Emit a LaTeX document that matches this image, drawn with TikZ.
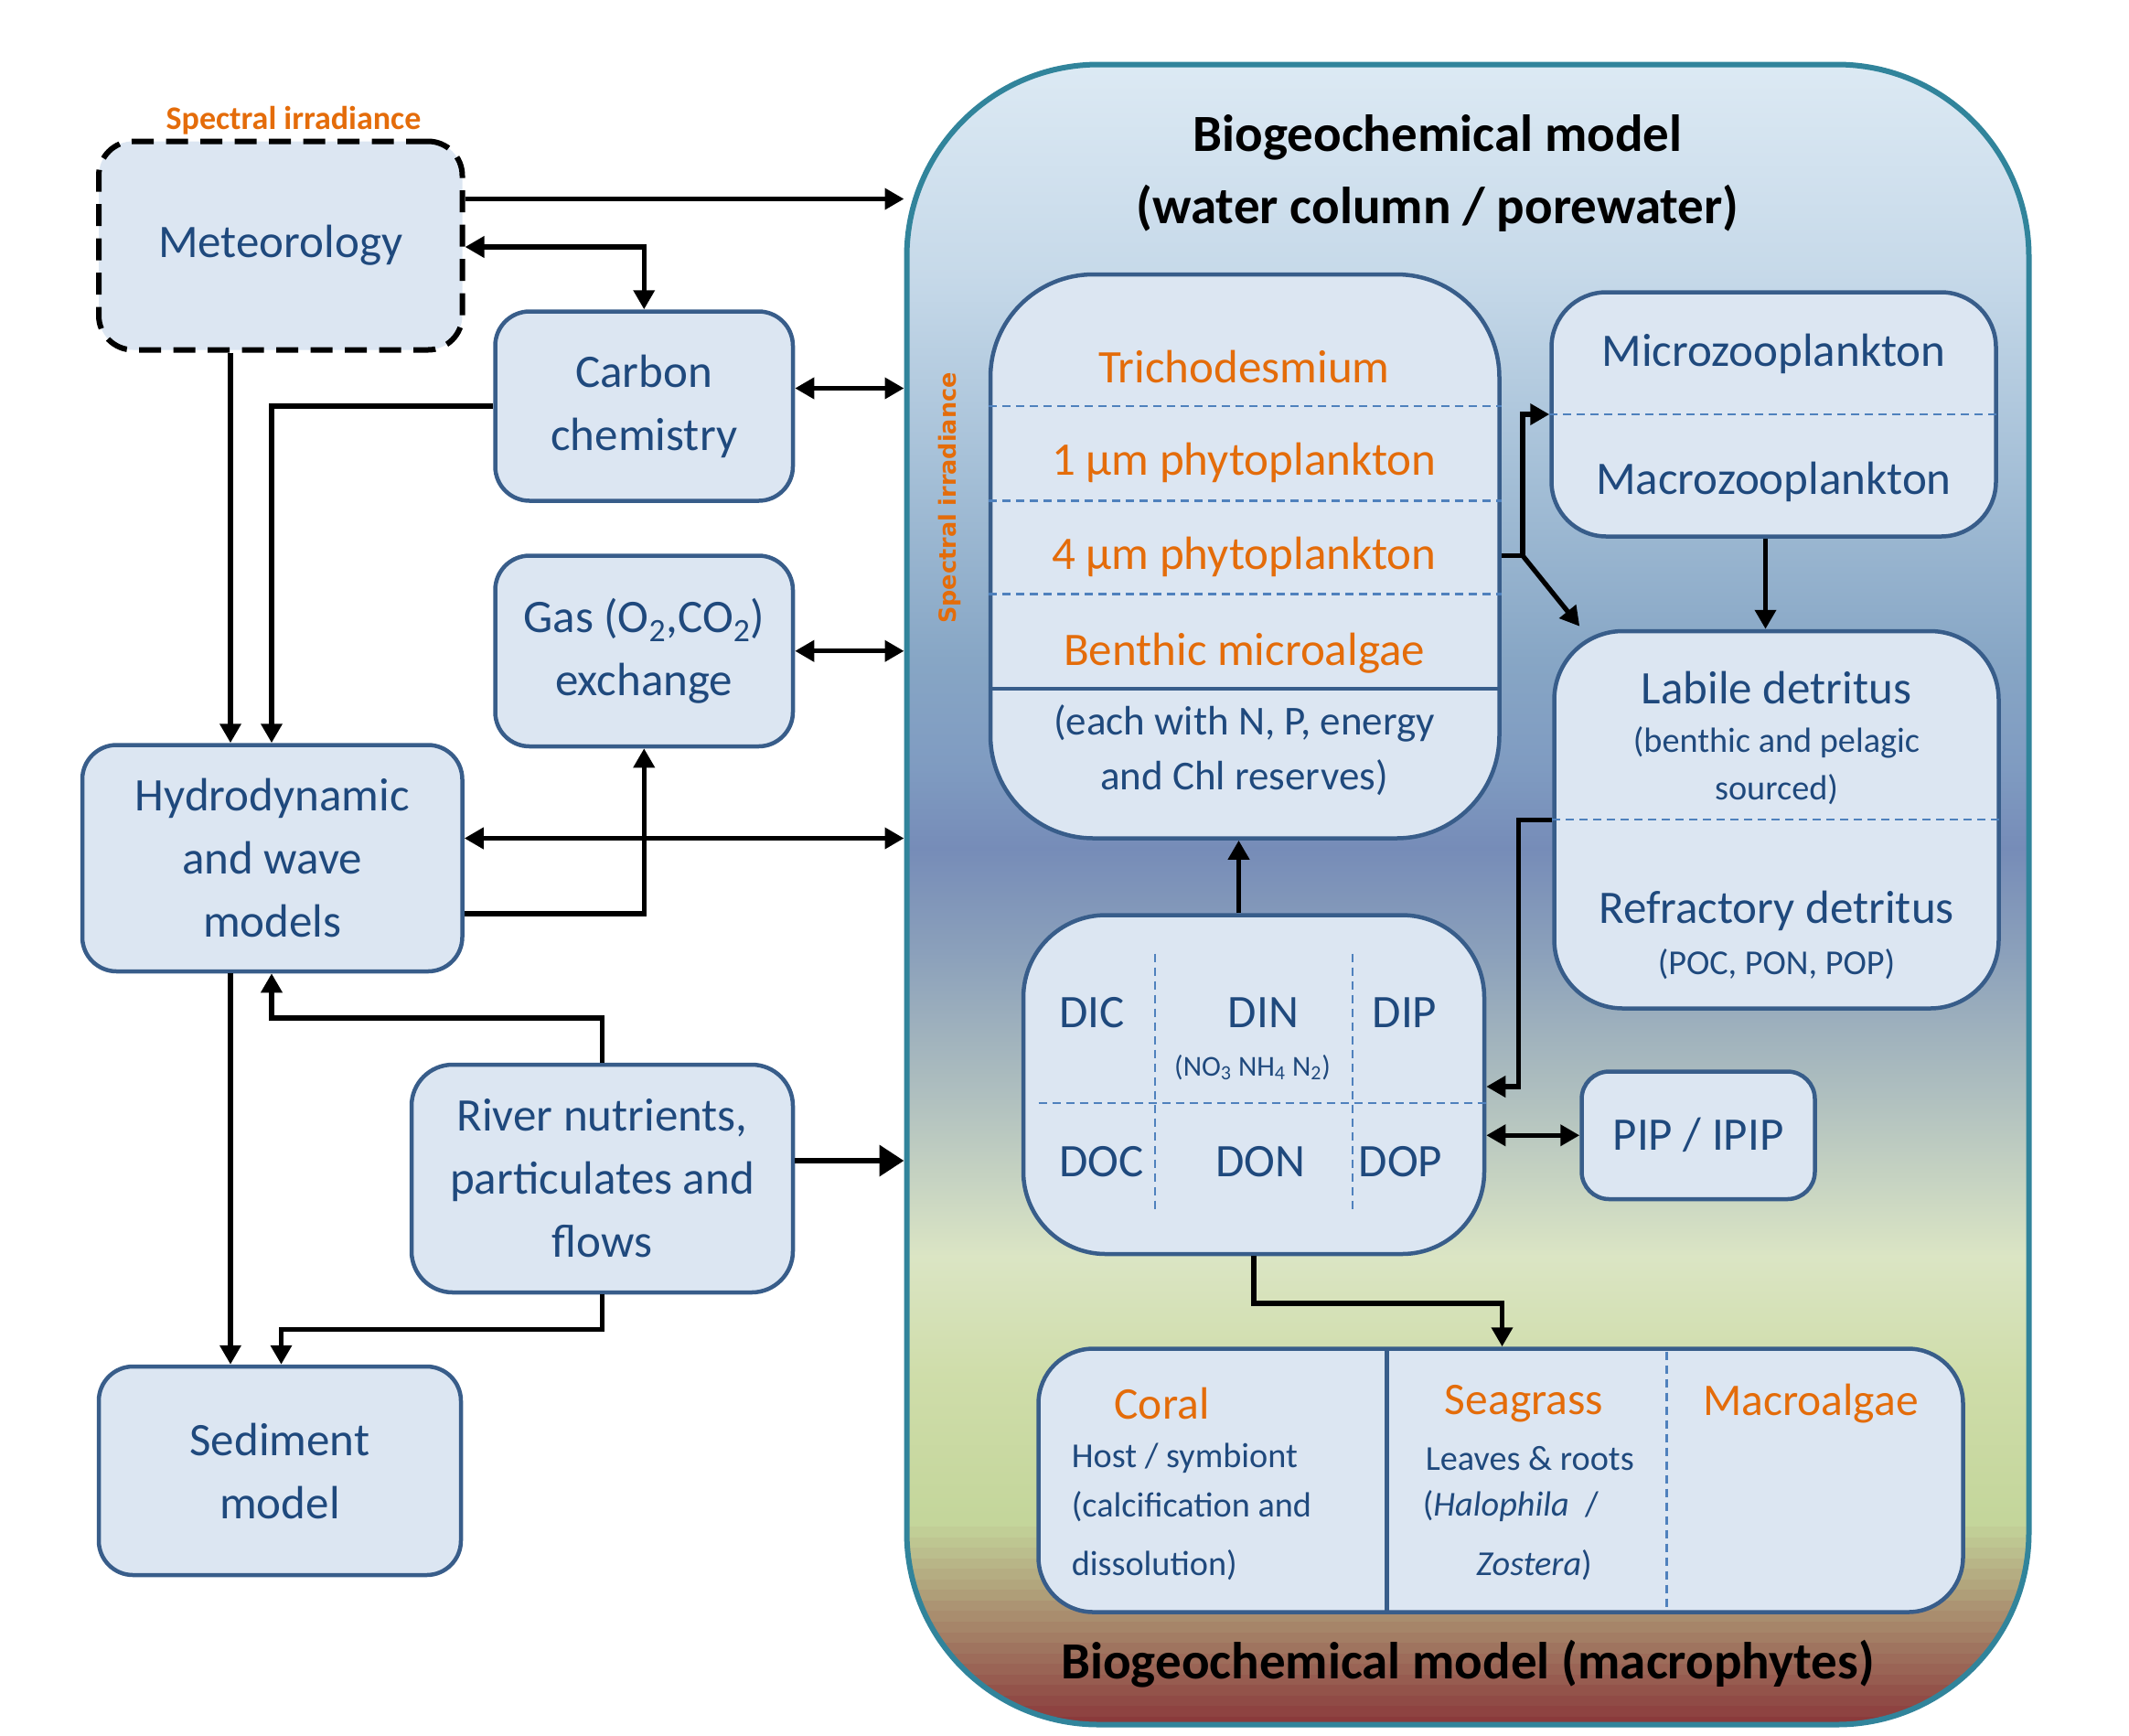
\documentclass[tikz,border=0pt]{standalone}
\usepackage{fontspec}
\setmainfont{Carlito}
\newfontfamily\djv{DejaVu Sans}
\usetikzlibrary{arrows.meta,calc}
\definecolor{boxf}{HTML}{DCE6F2}
\definecolor{bdr}{HTML}{385D8A}
\definecolor{txtb}{HTML}{1F497D}
\definecolor{orng}{HTML}{E46C0A}
\definecolor{cbdr}{HTML}{31849B}
\definecolor{dsh}{HTML}{4F81BD}
\definecolor{g0}{HTML}{DDEAF4}
\definecolor{g1}{HTML}{C6D9E9}
\definecolor{g2}{HTML}{A3BED6}
\definecolor{g3}{HTML}{87A6C5}
\definecolor{g4}{HTML}{7F9BC1}
\definecolor{g5}{HTML}{768CB8}
\definecolor{g6}{HTML}{8DA2BB}
\definecolor{g7}{HTML}{B0C0BF}
\definecolor{g8}{HTML}{DBE5C4}
\definecolor{g9}{HTML}{CFDDAA}
\definecolor{g10}{HTML}{C4D69B}
\definecolor{g11}{HTML}{8A3A3B}
\begin{document}
\begin{tikzpicture}[x=1pt,y=-1pt,
  box/.style={draw=bdr, line width=3pt, fill=boxf, rounded corners=#1, inner sep=0pt,
    text=txtb, font=\fontsize{34}{46}\selectfont, align=center},
  box/.default=25pt,
  tb/.style={text=txtb, inner sep=0pt, font=\fontsize{34}{46}\selectfont, align=center},
  tbs/.style={text=txtb, inner sep=0pt, font=\fontsize{25.5}{35}\selectfont, align=center},
  to/.style={text=orng, inner sep=0pt, font=\fontsize{34}{40}\selectfont},
  ttl/.style={text=black, inner sep=0pt, font=\bfseries\fontsize{38}{44}\selectfont},
  sepl/.style={draw=dsh, line width=1.5pt, dash pattern=on 6pt off 4pt},
  conn/.style={line width=3.5pt},
  arr/.style={line width=3.5pt, -{Triangle[length=14pt,width=15pt]}},
  darr/.style={line width=3.5pt, {Triangle[length=14pt,width=15pt]}-{Triangle[length=14pt,width=15pt]}},
  bigarr/.style={line width=4.5pt, -{Triangle[length=18pt,width=22pt]}}
]
\useasboundingbox (0,0) rectangle (1552,1264.67);

% ---------- container gradient ----------
\begin{scope}
\clip[rounded corners=140pt] (661,47) rectangle (1479,1257);
\shade[top color=g0, bottom color=g1] (661,40) rectangle (1479,201);
\shade[top color=g1, bottom color=g2] (661,200) rectangle (1479,351);
\shade[top color=g2, bottom color=g3] (661,350) rectangle (1479,481);
\shade[top color=g3, bottom color=g4] (661,480) rectangle (1479,561);
\shade[top color=g4, bottom color=g5] (661,560) rectangle (1479,619);
\shade[top color=g5, bottom color=g6] (661,618) rectangle (1479,701);
\shade[top color=g6, bottom color=g7] (661,700) rectangle (1479,801);
\shade[top color=g7, bottom color=g8] (661,800) rectangle (1479,916);
\shade[top color=g8, bottom color=g9] (661,915) rectangle (1479,1001);
\shade[top color=g9, bottom color=g10] (661,1000) rectangle (1479,1106);
\foreach \i in {0,...,19}{
  \pgfmathtruncatemacro\tt{\i*100/19}
  \fill[g11!\tt!g10] (661,1105+\i*7.7) rectangle (1479,1105+\i*7.7+8.5);
}
\end{scope}
\node[draw=cbdr, line width=4pt, rounded corners=140pt, minimum width=818pt,
  minimum height=1210pt, inner sep=0pt] (bgc) at (1070,652) {};

\node[ttl] (t1) at (1048,100) {Biogeochemical model};
\node[ttl] (t2) at (1048,152) {(water column / porewater)};
\node[ttl] (t3) at (1070,1213) {Biogeochemical model (macrophytes)};

\node[text=orng, inner sep=0pt, rotate=90, font=\djv\bfseries\fontsize{17}{20}\selectfont]
  (sir) at (692,363) {Spectral irradiance};

% ---------- left boxes ----------
\node[box, draw=black, line width=4pt, dash pattern=on 16pt off 9pt,
  minimum width=265pt, minimum height=152pt] (met) at (204.5,179) {Meteorology};
\node[text=orng, inner sep=0pt, font=\bfseries\fontsize{24}{28}\selectfont] (sit) at (214,88) {Spectral irradiance};
\node[box, minimum width=217pt, minimum height=138pt] (carb) at (469.5,296) {Carbon\\chemistry};
\node[box, minimum width=217pt, minimum height=139pt] (gas) at (469.5,474.5)
  {Gas (O\textsubscript{2},CO\textsubscript{2})\\exchange};
\node[box, minimum width=277pt, minimum height=165pt] (hyd) at (198.5,625.5) {Hydrodynamic\\and wave\\models};
\node[box=30pt, minimum width=278pt, minimum height=166pt] (riv) at (439,859)
  {River nutrients,\\particulates and\\flows};
\node[box, minimum width=264pt, minimum height=152pt] (sed) at (204,1072) {Sediment\\model};

% ---------- phytoplankton ----------
\node[box=75pt, minimum width=371pt, minimum height=411pt] (phy) at (907.5,405.5) {};
\draw[sepl] (phy.west |- 0,296) -- (phy.east |- 0,296);
\draw[sepl] (phy.west |- 0,365) -- (phy.east |- 0,365);
\draw[sepl] (phy.west |- 0,433) -- (phy.east |- 0,433);
\draw[draw=bdr, line width=2.5pt] (phy.west |- 0,502) -- (phy.east |- 0,502);
\node[to] (p1) at (907,267) {Trichodesmium};
\node[to] (p2) at (907,337) {1 µm phytoplankton};
\node[to] (p3) at (907,406) {4 µm phytoplankton};
\node[to] (p4) at (907,476) {Benthic microalgae};
\node[tb, font=\fontsize{30}{40}\selectfont] (p5) at (907,547) {(each with N, P, energy\\and Chl reserves)};

% ---------- zooplankton ----------
\node[box=40pt, minimum width=324pt, minimum height=178pt] (zoo) at (1293,302) {};
\draw[sepl] (zoo.west) -- (zoo.east);
\node[tb] (z1) at (1293,258) {Microzooplankton};
\node[tb] (z2) at (1293,351) {Macrozooplankton};

% ---------- detritus ----------
\node[box=50pt, minimum width=324pt, minimum height=275pt] (det) at (1295,597.5) {};
\draw[sepl] (det.west) -- (det.east);
\node[tb] (d1) at (1295,501) {Labile detritus};
\node[tbs] (d2) at (1295,558) {(benthic and pelagic\\sourced)};
\node[tb] (d3) at (1295,664) {Refractory detritus};
\node[tbs] (d4) at (1295,703) {(POC, PON, POP)};

% ---------- nutrients ----------
\node[box=60pt, minimum width=336pt, minimum height=247pt] (nut) at (914,790.5) {};
\draw[sepl] (842,695) -- (842,884);
\draw[sepl] (986,695) -- (986,884);
\draw[sepl] (757,804) -- (nut.east |- 0,804);
\node[tb] (n1) at (796,738) {DIC};
\node[tb] (n2) at (921,738) {DIN};
\node[tb] (n3) at (1024,738) {DIP};
\node[tb, font=\fontsize{21}{24}\selectfont] (n4) at (913,778)
  {(NO\textsubscript{3} NH\textsubscript{4} N\textsubscript{2})};
\node[tb] (n5) at (803,847) {DOC};
\node[tb] (n6) at (919,847) {DON};
\node[tb] (n7) at (1021,847) {DOP};

\node[box=20pt, minimum width=170pt, minimum height=93pt] (pip) at (1238,827.5) {PIP / IPIP};

% ---------- macrophytes ----------
\node[box=40pt, minimum width=674pt, minimum height=192pt] (mac) at (1094,1079) {};
\draw[draw=bdr, line width=3pt] (1011,983) -- (1011,1175);
\draw[sepl] (1215,985) -- (1215,1173);
\node[to, font=\fontsize{33}{40}\selectfont] (m1) at (847,1023) {Coral};
\node[tbs, anchor=west] (m2) at (781,1063) {Host / symbiont};
\node[tbs, anchor=west] (m3) at (781,1098) {(calcification and};
\node[tbs, anchor=west] (m4) at (781,1141) {dissolution)};
\node[to, font=\fontsize{33}{40}\selectfont] (m5) at (1111,1023) {Seagrass};
\node[tbs, anchor=west] (m6) at (1039,1063) {Leaves \& roots};
\node[tbs, anchor=west] (m7) at (1037,1098) {(\textit{Halophila}\ \ /};
\node[tbs, anchor=west] (m8) at (1076,1141) {\textit{Zostera})};
\node[to, font=\fontsize{33}{40}\selectfont] (m9) at (1320,1023) {Macroalgae};

% ---------- connectors (left) ----------
\draw[arr] (met.east |- 0,145) -- (bgc.west |- 0,145);
\draw[darr] (met.east |- 0,180) -| (carb.north);
\draw[arr] (met.south -| 168,0) -- (hyd.north -| 168,0);
\draw[arr] (carb.west) -| (hyd.north -| 198,0);
\draw[darr] (carb.east |- 0,283) -- (bgc.west |- 0,283);
\draw[darr] (gas.east) -- (bgc.west |- gas.east);
\draw[darr] (hyd.east |- 0,611) -- (bgc.west |- 0,611);
\draw[arr] (hyd.east |- 0,666) -| (gas.south);
\draw[arr] (hyd.south -| 168,0) -- (sed.north -| 168,0);
\draw[arr] (riv.north) -- (riv.north |- 0,742) -| (hyd.south -| 198,0);
\draw[bigarr] (riv.east |- 0,846) -- (bgc.west |- 0,846);
\draw[arr] (riv.south) -- (riv.south |- 0,969) -| (sed.north -| 205,0);

% ---------- connectors (inside) ----------
\coordinate (jn) at (1110,405);
\draw[conn] (phy.east |- jn) -- (jn);
\draw[arr] (jn) |- (zoo.west);
\draw[arr] (jn) -- ([shift={(20,-2)}]det.north west);
\draw[arr] (zoo.south -| 1287,0) -- (det.north -| 1287,0);
\draw[arr] (det.west) -- (det.west -| 1107,0) |- (nut.east |- 0,792);
\draw[arr] (nut.north -| 903,0) -- (phy.south -| 903,0);
\draw[darr] (nut.east |- pip.west) -- (pip.west);
\draw[arr] (nut.south) -- (nut.south |- 0,950) -| (mac.north -| 1095,0);
\end{tikzpicture}
\end{document}
